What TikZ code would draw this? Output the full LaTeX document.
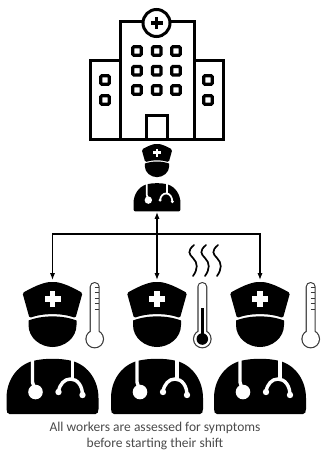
\documentclass[tikz,border=0pt]{standalone}
\usepackage{fontspec}
\setmainfont{Carlito}
\usetikzlibrary{arrows.meta,positioning}
\definecolor{ink}{HTML}{000000}
\definecolor{gauge}{HTML}{3A3A3A}
\definecolor{muted}{HTML}{4A4A4A}
\tikzset{
  arrow/.style={-{Latex[length=2.4mm,width=1.8mm]},line width=1.2pt,draw=ink},
  wall/.style={draw=ink,line width=3pt,miter limit=2},
  pane/.style={draw=ink,line width=3.2pt,fill=white,rounded corners=1pt},
  steam/.style={draw=ink,line width=1.7pt,line cap=round},
  caption/.style={font=\fontsize{13.5}{16}\selectfont,text=muted,align=center,inner sep=0pt},
  pics/nurse/.style={code={
    \begin{scope}[scale=#1]
    % cap
    \fill[ink,rounded corners=1.5pt] (-30,11) .. controls (-16,3) and (-7,0) .. (0,0)
      .. controls (7,0) and (16,3) .. (30,11) -- (23,36) .. controls (10,31) and (-10,31) .. (-23,36) -- cycle;
    \fill[white] (-2.8,9) rectangle (2.8,25);
    \fill[white] (-8,14.2) rectangle (8,19.8);
    % face
    \fill[ink] (-24,38.5) .. controls (-10,33) and (10,33) .. (24,38.5) -- (24,43)
      .. controls (24,56) and (12,65) .. (0,65) .. controls (-12,65) and (-24,56) .. (-24,43) -- cycle;
    % body
    \fill[ink] (-43,132) .. controls (-45,132) and (-46,130) .. (-46,127) -- (-46,116)
      .. controls (-46,100) and (-37,84) .. (-20,79) .. controls (-8,76) and (8,76) .. (20,79)
      .. controls (37,84) and (46,100) .. (46,116) -- (46,127) .. controls (46,130) and (45,132) .. (43,132) -- cycle;
    % stethoscope
    \draw[white,line width=#1*3.4pt] (-20,78) -- (-20,100) -- (-17,110);
    \fill[white] (-17,110) circle (7.3);
    \draw[white,line width=#1*3.4pt] (20,78) -- (20,97);
    \draw[white,line width=#1*3.4pt] (6,110) .. controls (7,102) and (12,97) .. (18,97) .. controls (25,97) and (30,104) .. (30,113);
    \fill[white] (6,110) circle (3.2);
    \fill[white] (30,113) circle (3.2);
    \end{scope}
  }},
  pics/gauge/.style={code={
    \fill[gauge] (0,0) circle (9.4);
    \fill[gauge,rounded corners=4.8pt] (-5,-57) rectangle (5,0);
    \fill[white] (0,0) circle (8.2);
    \fill[white,rounded corners=3.6pt] (-3.8,-55.8) rectangle (3.8,0);
    \foreach \tick in {-52,-46.5,-41,-35.5,-30}
      \draw[gauge,line width=.8pt] (0,\tick) -- (4,\tick);
  }},
  pics/hotgauge/.style={code={
    \fill[gauge] (0,0) circle (9.4);
    \fill[gauge,rounded corners=4.8pt] (-5,-57) rectangle (5,0);
    \fill[white] (0,0) circle (8.2);
    \fill[white,rounded corners=3.6pt] (-3.8,-55.8) rectangle (3.8,0);
    \fill[ink] (0,0) circle (5.8);
    \fill[ink] (-1.6,-31) rectangle (1.6,0);
  }}
}
\begin{document}
\begin{tikzpicture}[x=1pt,y=-1pt]
\useasboundingbox (0,0) rectangle (321,451);
% hospital
\draw[wall] (120,139) -- (120,21) -- (194,21) -- (194,139);
\draw[wall] (120,60) -- (90,60) -- (90,139) -- (223,139) -- (223,60) -- (194,60);
\draw[wall] (146.5,139) -- (146.5,115) -- (167,115) -- (167,139);
\node[circle,draw=ink,line width=3pt,fill=white,minimum size=27pt,inner sep=0pt] (badge) at (156.5,23) {};
\fill[ink] (154.9,17) rectangle (158.1,29);
\fill[ink] (150.5,21.4) rectangle (162.5,24.6);
\foreach \col in {137,156.7,176}
  \foreach \row in {51,70.7,90}
    \draw[pane] (\col-4.2,\row-4.2) rectangle (\col+4.2,\row+4.2);
\foreach \col in {105,208}
  \foreach \row in {80,100}
    \draw[pane] (\col-4.2,\row-4.2) rectangle (\col+4.2,\row+4.2);
% nurses
\pic at (157,144) {nurse=0.51};
\pic at (52.5,282) {nurse=1};
\pic at (157,282) {nurse=1};
\pic at (260,282) {nurse=1};
% thermometers
\pic at (94.7,339) {gauge};
\pic at (202.3,339) {hotgauge};
\pic at (310.7,339) {gauge};
\foreach \wave in {193,205,217}
  \draw[steam] (\wave+1,245) .. controls (\wave-6,251) and (\wave-4,254) .. (\wave,258)
    .. controls (\wave+5,263) and (\wave+5,269) .. (\wave,276);
% connectors
\coordinate (lead) at (157,212);
\coordinate (hub) at (157,234);
\coordinate (nurseA) at (52.5,280);
\coordinate (nurseB) at (157,280);
\coordinate (nurseC) at (260,280);
\draw[arrow] (hub) -- (lead);
\draw[arrow] (hub) -- (nurseB);
\draw[arrow] (hub) -| (nurseA);
\draw[arrow] (hub) -| (nurseC);
\node[caption] (note) at (155,436) {All workers are assessed for symptoms\\before starting their shift};
\end{tikzpicture}
\end{document}
